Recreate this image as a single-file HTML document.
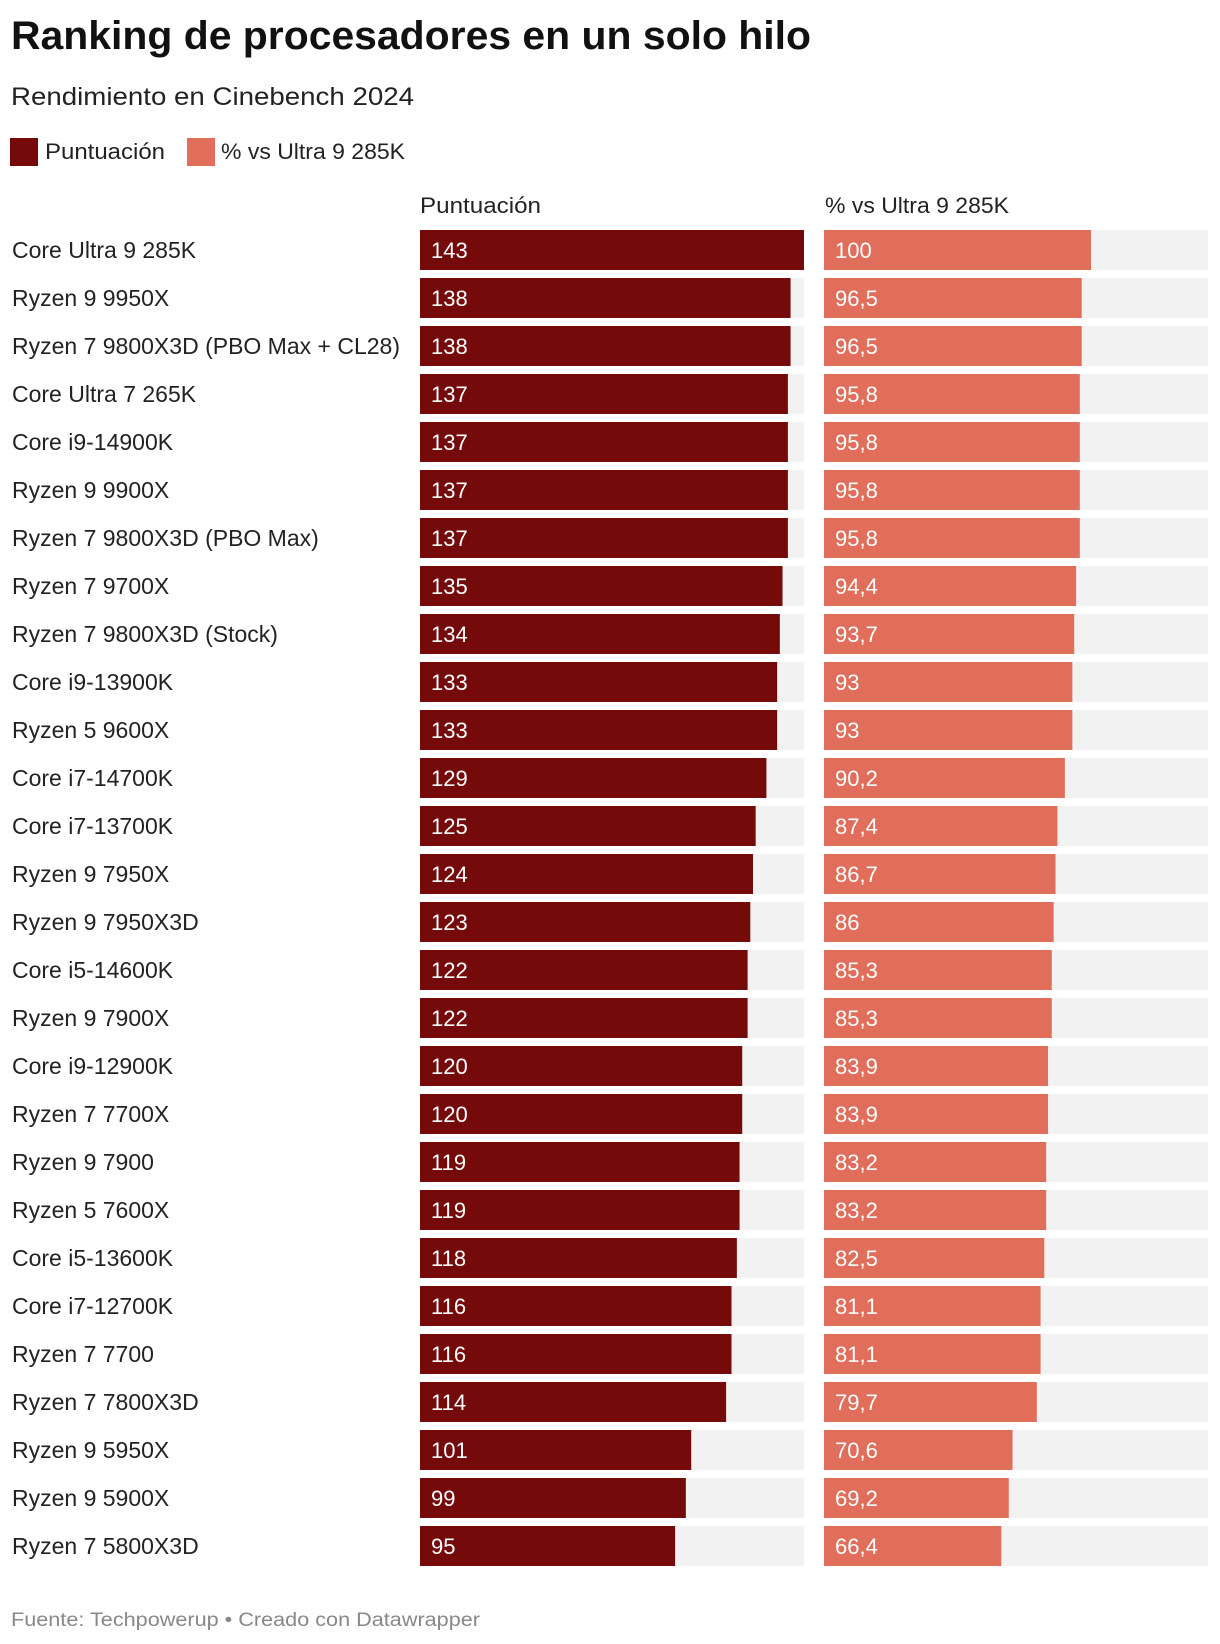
<!DOCTYPE html>
<html><head><meta charset="utf-8">
<style>
html,body{margin:0;padding:0;background:#fff;}
svg{display:block;font-family:"Liberation Sans",sans-serif;}
</style></head>
<body>
<svg id="chart" width="1220" height="1644" viewBox="0 0 1220 1644" xmlns="http://www.w3.org/2000/svg">
<text x="11" y="49" font-size="40" font-weight="bold" fill="#111" textLength="800" lengthAdjust="spacingAndGlyphs">Ranking de procesadores en un solo hilo</text>
<text x="11" y="105" font-size="25" fill="#222" textLength="403" lengthAdjust="spacingAndGlyphs">Rendimiento en Cinebench 2024</text>
<rect x="10" y="138" width="28" height="28" fill="#750a0a"/>
<text x="45" y="159" font-size="22" fill="#222" textLength="120" lengthAdjust="spacingAndGlyphs">Puntuación</text>
<rect x="187" y="138" width="28" height="28" fill="#e06e5a"/>
<text x="221" y="159" font-size="22" fill="#222" textLength="184" lengthAdjust="spacingAndGlyphs">% vs Ultra 9 285K</text>
<text x="420" y="213" font-size="22" fill="#222" textLength="121" lengthAdjust="spacingAndGlyphs">Puntuación</text>
<text x="825" y="213" font-size="22" fill="#222" textLength="184" lengthAdjust="spacingAndGlyphs">% vs Ultra 9 285K</text>
<g id="rows"></g>
<text x="11" y="1626" font-size="19" fill="#888" textLength="469" lengthAdjust="spacingAndGlyphs">Fuente: Techpowerup • Creado con Datawrapper</text>
</svg>
<script>
const categories = ["Core Ultra 9 285K","Ryzen 9 9950X","Ryzen 7 9800X3D (PBO Max + CL28)","Core Ultra 7 265K","Core i9-14900K","Ryzen 9 9900X","Ryzen 7 9800X3D (PBO Max)","Ryzen 7 9700X","Ryzen 7 9800X3D (Stock)","Core i9-13900K","Ryzen 5 9600X","Core i7-14700K","Core i7-13700K","Ryzen 9 7950X","Ryzen 9 7950X3D","Core i5-14600K","Ryzen 9 7900X","Core i9-12900K","Ryzen 7 7700X","Ryzen 9 7900","Ryzen 5 7600X","Core i5-13600K","Core i7-12700K","Ryzen 7 7700","Ryzen 7 7800X3D","Ryzen 9 5950X","Ryzen 9 5900X","Ryzen 7 5800X3D"];
const scores = [143,138,138,137,137,137,137,135,134,133,133,129,125,124,123,122,122,120,120,119,119,118,116,116,114,101,99,95];
const percents = [100,96.5,96.5,95.8,95.8,95.8,95.8,94.4,93.7,93,93,90.2,87.4,86.7,86,85.3,85.3,83.9,83.9,83.2,83.2,82.5,81.1,81.1,79.7,70.6,69.2,66.4];

const NS = "http://www.w3.org/2000/svg";
const g = document.getElementById("rows");
const trackW = 384, top0 = 230, pitch = 48, barH = 40;
const x1 = v => v / 143 * trackW;
const x2 = v => v / 143.8 * trackW;
function mk(tag, attrs){const e=document.createElementNS(NS,tag);for(const k in attrs)e.setAttribute(k,attrs[k]);return e;}
categories.forEach((c,i)=>{
  const y = top0 + i*pitch;
  const lab = mk("text",{x:12,y:y+28,"font-size":23,fill:"#222"});
  
  
  lab.textContent = c; g.appendChild(lab);
  [[420,scores[i],"#750a0a",x1,String(scores[i])],[824,percents[i],"#e06e5a",x2,String(percents[i]).replace(".",",")]].forEach((s,j)=>{
    const tr = mk("rect",{x:s[0],y:y,width:trackW,height:barH,fill:"#f2f2f2"});
    
    
    g.appendChild(tr);
    const b = mk("rect",{x:s[0],y:y,width:s[3](s[1]),height:barH,fill:s[2]});
    
    
    g.appendChild(b);
    const t = mk("text",{x:s[0]+11,y:y+28,"font-size":22,fill:"#fff"});
    
    
    t.textContent = s[4]; g.appendChild(t);
  });
});
</script>
</body></html>
